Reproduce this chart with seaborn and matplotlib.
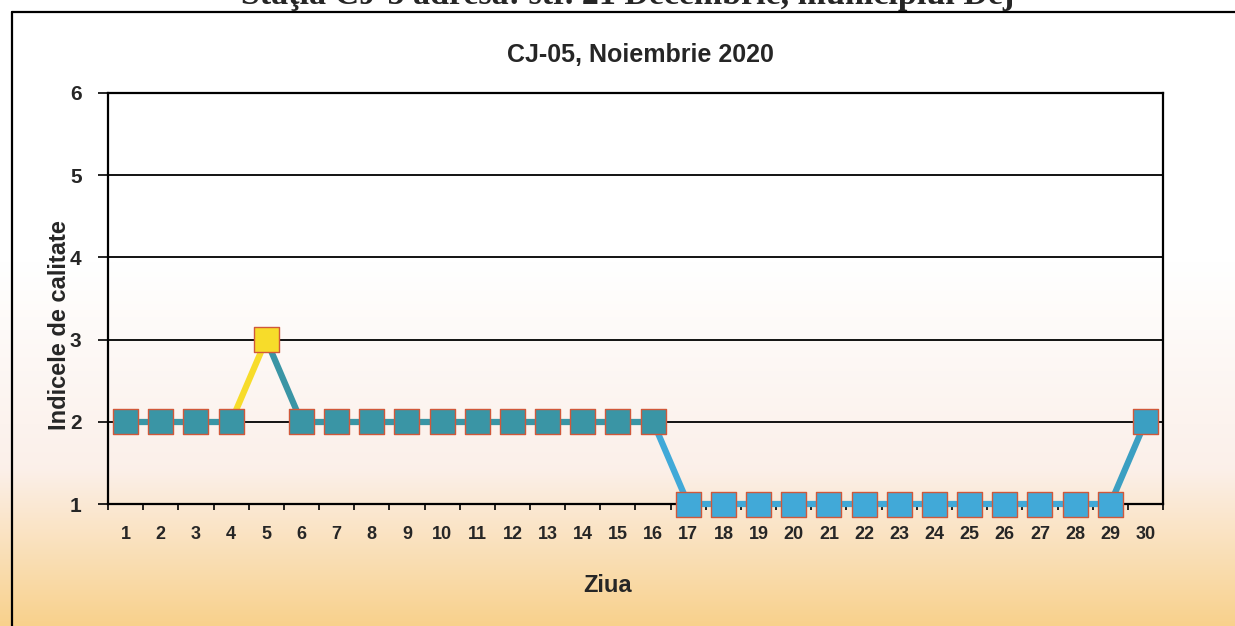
import numpy as np
import matplotlib
matplotlib.use("Agg")
import matplotlib.pyplot as plt
import seaborn as sns
import pandas as pd
from matplotlib.lines import Line2D

days = list(range(1, 31))
values = [2, 2, 2, 2, 3, 2, 2, 2, 2, 2, 2, 2, 2, 2, 2, 2,
          1, 1, 1, 1, 1, 1, 1, 1, 1, 1, 1, 1, 1, 2]
point_colors = ["#3a95a5"] * 4 + ["#f7dc2a"] + ["#3a95a5"] * 11 + ["#41a9d8"] * 13 + ["#3b9fc2"]
y_ticks = [1, 2, 3, 4, 5, 6]
title = "CJ-05, Noiembrie 2020"
header = "Staţia CJ-5 adresa: str. 21 Decembrie, municipiul Dej"
xlabel = "Ziua"
ylabel = "Indicele de calitate"

sns.set_theme(style="white")
plt.rcParams['font.family'] = ['Liberation Sans', 'DejaVu Sans']

W, H = 1235, 626
fig = plt.figure(figsize=(W / 100, H / 100), dpi=100)

# scanned paper gradient background
bg = fig.add_axes([0, 0, 1, 1], zorder=-10)
bg.axis('off')
n = 400
t = np.linspace(0, 1, n)  # 0 top, 1 bottom
top = np.array([1.0, 1.0, 1.0])
mid = np.array([0.985, 0.94, 0.915])
bot = np.array([0.975, 0.82, 0.55])
cols = np.zeros((n, 3))
for i, v in enumerate(t):
    if v < 0.42:
        cols[i] = top
    elif v < 0.75:
        f = (v - 0.42) / 0.33
        cols[i] = top * (1 - f) + mid * f
    else:
        f = (v - 0.75) / 0.25
        cols[i] = mid * (1 - f) + bot * f
img = np.repeat(cols[:, None, :], 8, axis=1)
bg.imshow(img, aspect='auto', extent=[0, 1, 0, 1], origin='upper')
bg.set_xlim(0, 1); bg.set_ylim(0, 1)

# outer frame
fy = 1 - 12 / H
fig.add_artist(Line2D([12 / W, 12 / W], [0, fy], color='black', lw=1.6))
fig.add_artist(Line2D([12 / W, 1], [fy, fy], color='black', lw=1.6))

fig.text(628 / W, 1 - 4 / H, header, ha='center', va='baseline',
         fontsize=24.5, fontweight='bold', family=['Liberation Serif', 'DejaVu Serif'])

ax = fig.add_axes([108 / W, 1 - 504 / H, (1163 - 108) / W, (504 - 93) / H])
ax.patch.set_alpha(0)

# line segments coloured by destination point
for i in range(1, len(days)):
    ax.plot(days[i - 1:i + 1], values[i - 1:i + 1], color=point_colors[i], lw=4.5,
            solid_capstyle='butt', zorder=3, clip_on=False)

df = pd.DataFrame({"day": days, "val": values, "c": [str(i) for i in range(len(days))]})
sns.scatterplot(data=df, x="day", y="val", hue="c",
                palette=dict(zip(df["c"], point_colors)),
                marker='s', s=18 ** 2, edgecolor='#d0583a', linewidth=1.0,
                legend=False, ax=ax, zorder=4)
for coll in ax.collections:
    coll.set_clip_on(False)

ax.set_xlim(0.5, 30.5)
ax.set_ylim(1, 6)
ax.set_yticks(y_ticks)
ax.set_yticklabels([str(v) for v in y_ticks], fontsize=15, fontweight='bold')
ax.set_xticks(days)
ax.set_xticklabels([str(d) for d in days], fontsize=13, fontweight='bold')
ax.set_xticks(np.arange(0.5, 31, 1), minor=True)
ax.tick_params(axis='x', which='major', length=0, pad=16)
ax.tick_params(axis='x', which='minor', length=4, width=1.2, direction='out', color='black', bottom=True)
ax.tick_params(axis='y', which='major', length=7, width=1.2, direction='out', color='black', left=True, pad=12)
for y in y_ticks[1:-1]:
    ax.axhline(y, color='black', lw=1.3, zorder=1)
for s in ax.spines.values():
    s.set_color('black')
    s.set_linewidth(1.6)
    s.set_visible(True)

ax.set_xlabel(xlabel, fontsize=17, fontweight='bold')
ax.xaxis.set_label_coords((608 - 108) / 1055, -(585 - 504) / 411)
ax.xaxis.label.set_va('center')
ax.set_ylabel(ylabel, fontsize=17, fontweight='bold')
ax.yaxis.set_label_coords((60 - 108) / 1055, (504 - 325) / 411)
ax.yaxis.label.set_va('center')
fig.text(640 / W, 1 - 55 / H, title, ha='center', va='center', fontsize=18, fontweight='bold')

fig.savefig("out.png", dpi=100)
